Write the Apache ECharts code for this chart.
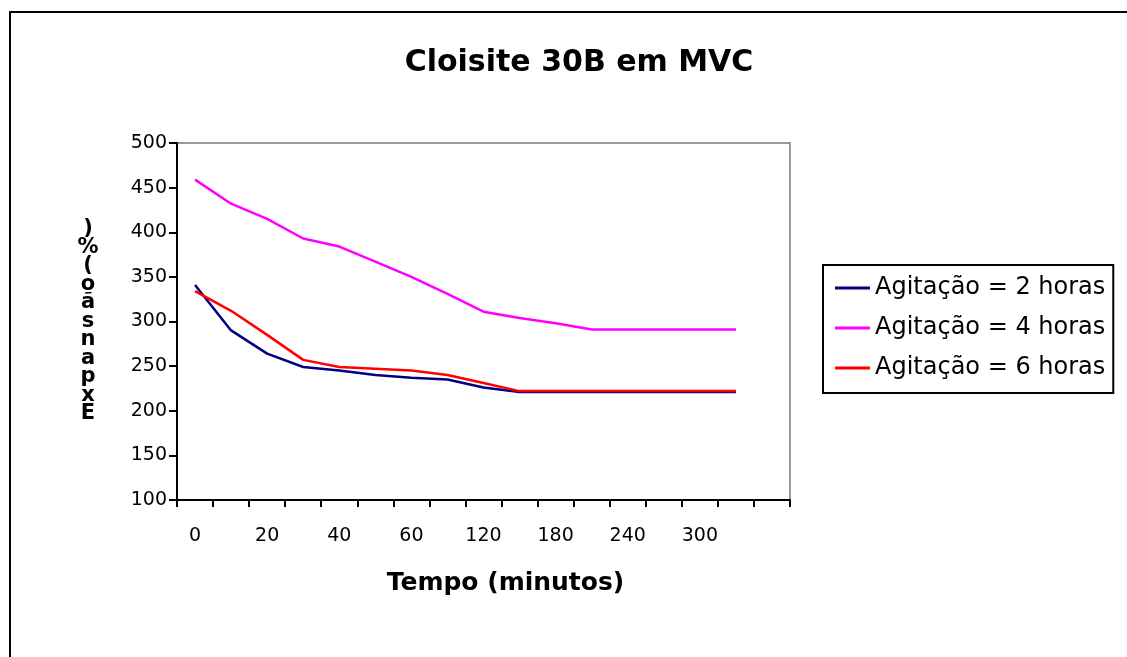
<!DOCTYPE html>
<html>
<head>
<meta charset="utf-8">
<script src="https://cdn.jsdelivr.net/npm/echarts@6/dist/echarts.min.js"></script>
<style>
html,body{margin:0;padding:0;background:#fff;}
#chart{width:1127px;height:657px;}
</style>
</head>
<body>
<div id="chart"></div>
<script>
// Data
const categories = ['0','10','20','30','40','50','60','90','120','150','180','210','240','270','300','330',''];
const seriesNames = ['Agitação = 2 horas', 'Agitação = 4 horas', 'Agitação = 6 horas'];
const agit2h = [341, 290, 264, 249, 245, 240, 237, 235, 226, 221, 221, 221, 221, 221, 221, 221];
const agit4h = [459, 432, 415, 393, 384, 367, 350, 331, 311, 304, 298, 291, 291, 291, 291, 291];
const agit6h = [334, 312, 285, 257, 249, 247, 245, 240, 231, 222, 222, 222, 222, 222, 222, 222];
const colors = ['#000080', '#FF00FF', '#FF0000'];
const yTitle = 'Expansão (%)';
const yTitleStacked = yTitle.replace(/\s/g, '').split('').reverse().join('\n');

const FONT = 'DejaVu Sans';
const chart = echarts.init(document.getElementById('chart'), null, {renderer: 'canvas'});
const mkSeries = (name, data, color) => ({
  name: name, type: 'line', data: data, showSymbol: false, symbol: 'none',
  lineStyle: {color: color, width: 2.5}, itemStyle: {color: color}
});
chart.setOption({
  animation: false,
  backgroundColor: '#fff',
  title: {
    text: 'Cloisite 30B em MVC',
    left: 574, top: 43, textAlign: 'center',
    textStyle: {fontFamily: FONT, fontWeight: 'bold', fontSize: 30, color: '#000'}
  },
  graphic: [{
    type: 'rect', z: -10, silent: true,
    shape: {x: 10, y: 12, width: 1140, height: 680},
    style: {fill: '#fff', stroke: '#000', lineWidth: 2}
  }],
  legend: {
    orient: 'vertical', left: 823, top: 265,
    borderColor: '#000', borderWidth: 2,
    padding: [11, 8, 13, 12], itemGap: 16,
    itemWidth: 35, itemHeight: 3, icon: 'rect',
    textStyle: {fontFamily: FONT, fontSize: 24, lineHeight: 24, color: '#000'},
    data: seriesNames
  },
  grid: {
    left: 177, right: 337, top: 143, bottom: 157,
    show: true, borderColor: '#999', borderWidth: 2, backgroundColor: '#fff'
  },
  xAxis: {
    type: 'category', data: categories, boundaryGap: true,
    name: 'Tempo (minutos)', nameLocation: 'middle', nameGap: 71,
    nameTextStyle: {fontFamily: FONT, fontWeight: 'bold', fontSize: 25, color: '#000', padding: [0, 0, 0, 44]},
    axisLine: {lineStyle: {color: '#000', width: 2}},
    axisTick: {show: true, interval: 0, length: 7, lineStyle: {color: '#000', width: 2}},
    axisLabel: {interval: 1, margin: 27, fontFamily: FONT, fontSize: 19, color: '#000'},
    splitLine: {show: false}
  },
  yAxis: {
    type: 'value', min: 100, max: 500, interval: 50,
    name: yTitleStacked, nameLocation: 'middle', nameGap: 89, nameRotate: 0,
    nameTextStyle: {fontFamily: FONT, fontWeight: 'bold', fontSize: 21, lineHeight: 18.5, color: '#000', align: 'center', verticalAlign: 'middle'},
    axisLine: {show: true, lineStyle: {color: '#000', width: 2}},
    axisTick: {show: true, length: 8, lineStyle: {color: '#000', width: 2}},
    axisLabel: {margin: 10, fontFamily: FONT, fontSize: 19, color: '#000'},
    splitLine: {show: false}
  },
  series: [
    mkSeries(seriesNames[0], agit2h, colors[0]),
    mkSeries(seriesNames[1], agit4h, colors[1]),
    mkSeries(seriesNames[2], agit6h, colors[2])
  ]
});
</script>
</body>
</html>
